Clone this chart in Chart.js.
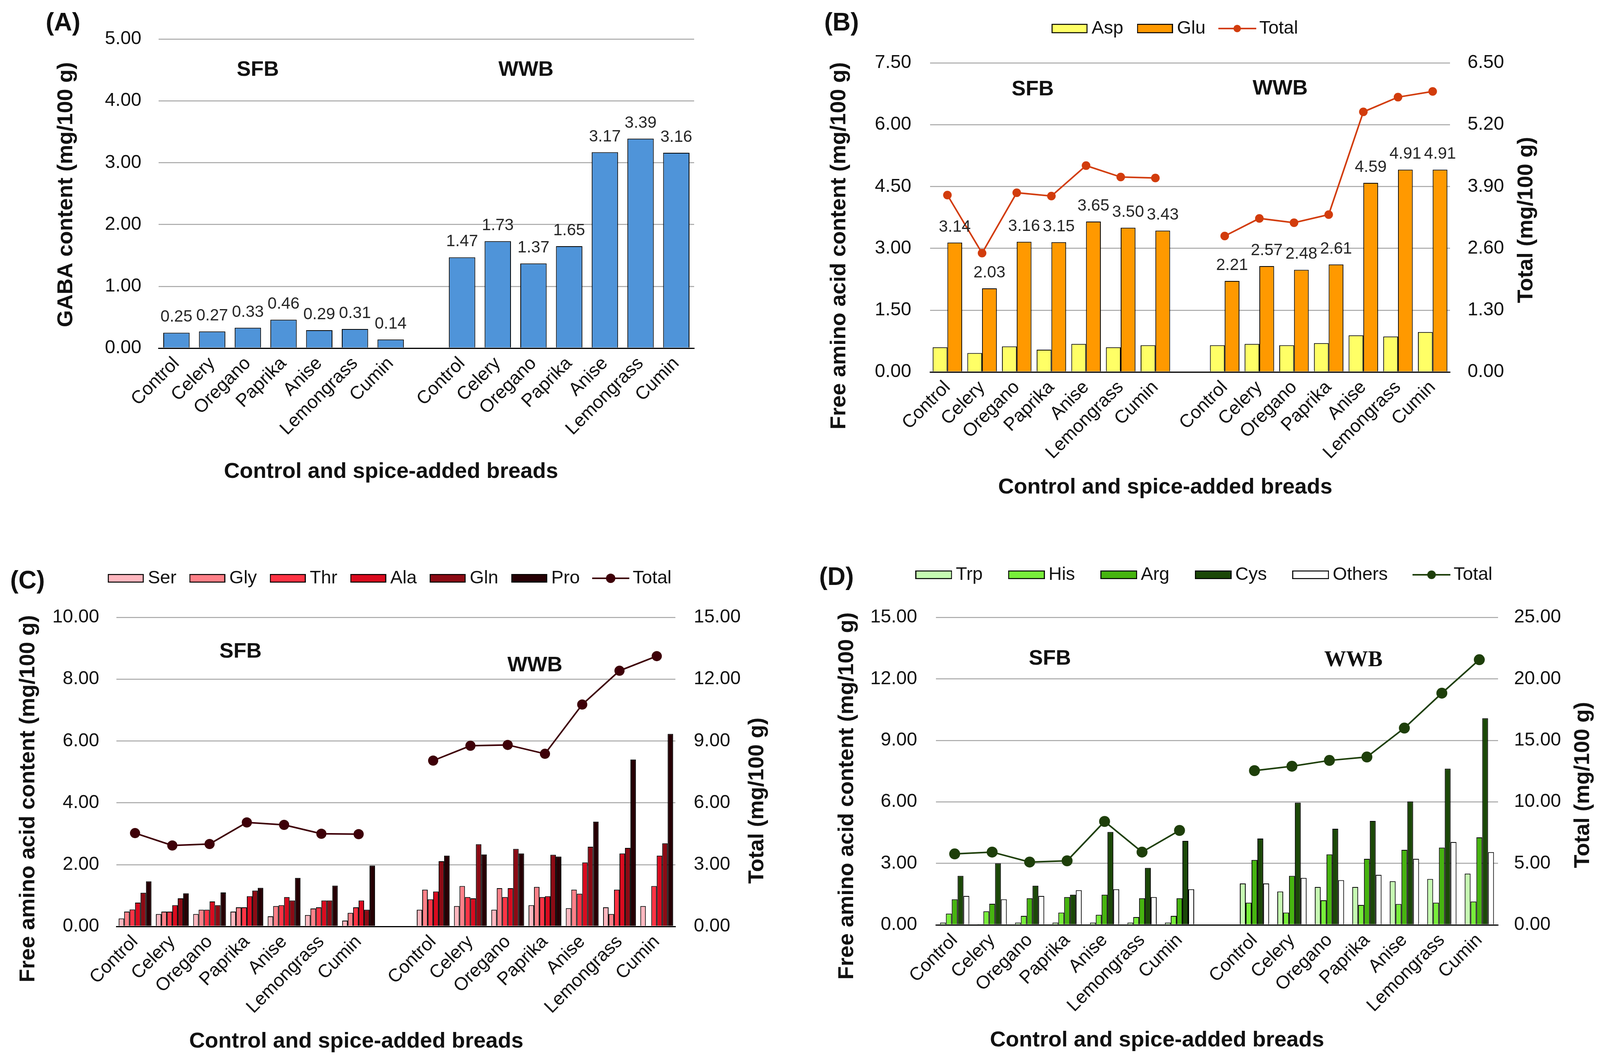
<!DOCTYPE html>
<html>
<head>
<meta charset="utf-8">
<script src="https://cdn.jsdelivr.net/npm/chart.js@4.4.1/dist/chart.umd.min.js"></script>
<style>
  html, body { margin: 0; padding: 0; background: #fff; }
  body { width: 4110px; height: 2723px; position: relative; overflow: hidden;
         font-family: "Liberation Sans", Arial, sans-serif; }
  canvas { position: absolute; }
  .tag { position: absolute; font-weight: bold; font-size: 64px; line-height: 64px; color: #111; }
</style>
</head>
<body>
<div class="tag" style="left:117px;top:24px">(A)</div>
<div class="tag" style="left:2110px;top:24px">(B)</div>
<div class="tag" style="left:26px;top:1452px">(C)</div>
<div class="tag" style="left:2097px;top:1443px">(D)</div>

<canvas id="chartA" width="2050" height="1330" style="left:0px;top:0px"></canvas>
<canvas id="chartB" width="1928" height="1330" style="left:2050px;top:0px"></canvas>
<canvas id="chartC" width="2008" height="1333" style="left:0px;top:1390px"></canvas>
<canvas id="chartD" width="2042" height="1363" style="left:2068px;top:1360px"></canvas>

<script>
// ---- data ----
const breads = ['Control', 'Celery', 'Oregano', 'Paprika', 'Anise', 'Lemongrass', 'Cumin'];
const categories = [...breads, '', ...breads];

// (A) GABA content
const gaba = [0.25, 0.27, 0.33, 0.46, 0.29, 0.31, 0.14, null, 1.47, 1.73, 1.37, 1.65, 3.17, 3.39, 3.16];
const gabaTicks = [0, 1, 2, 3, 4, 5];

// (B) Asp, Glu, total
const asp = [0.60, 0.46, 0.62, 0.54, 0.68, 0.60, 0.65, null, 0.65, 0.68, 0.65, 0.70, 0.89, 0.86, 0.97];
const glu = [3.14, 2.03, 3.16, 3.15, 3.65, 3.50, 3.43, null, 2.21, 2.57, 2.48, 2.61, 4.59, 4.91, 4.91];
const totalB = [3.72, 2.50, 3.77, 3.70, 4.34, 4.10, 4.08, null, 2.86, 3.23, 3.14, 3.31, 5.47, 5.78, 5.90];
const ticksB = [0, 1.5, 3, 4.5, 6, 7.5];
const ticksB2 = [0, 1.3, 2.6, 3.9, 5.2, 6.5];

// (C) Ser, Gly, Thr, Ala, Gln, Pro, total
const ser = [0.26, 0.40, 0.40, 0.48, 0.33, 0.37, 0.19, null, 0.54, 0.66, 0.54, 0.69, 0.59, 0.62, 0.66];
const gly = [0.48, 0.48, 0.54, 0.62, 0.66, 0.58, 0.44, null, 1.19, 1.31, 1.24, 1.28, 1.19, 0.40, 0];
const thr = [0.55, 0.48, 0.54, 0.62, 0.69, 0.62, 0.62, null, 0.88, 0.95, 0.95, 0.95, 1.06, 1.19, 1.31];
const ala = [0.77, 0.69, 0.81, 0.98, 0.95, 0.84, 0.84, null, 1.13, 0.91, 1.24, 0.98, 2.07, 2.36, 2.29];
const gln = [1.09, 0.91, 0.69, 1.16, 0.84, 0.84, 0.54, null, 2.11, 2.66, 2.51, 2.32, 2.58, 2.54, 2.69];
const pro = [1.46, 1.07, 1.10, 1.25, 1.57, 1.32, 1.97, null, 2.29, 2.33, 2.36, 2.26, 3.39, 5.40, 6.23];
const totalC = [4.53, 3.93, 4.00, 5.05, 4.93, 4.50, 4.48, null, 8.05, 8.77, 8.81, 8.38, 10.77, 12.41, 13.12];
const ticksC = [0, 2, 4, 6, 8, 10];
const ticksC2 = [0, 3, 6, 9, 12, 15];

// (D) Trp, His, Arg, Cys, others, total
const trp = [0.11, 0.04, 0.11, 0.11, 0.11, 0.11, 0.11, null, 2.02, 1.63, 1.85, 1.85, 2.13, 2.24, 2.50];
const his = [0.55, 0.66, 0.44, 0.60, 0.49, 0.38, 0.44, null, 1.08, 0.60, 1.20, 0.97, 1.02, 1.08, 1.14];
const arg = [1.25, 1.03, 1.30, 1.36, 1.47, 1.30, 1.30, null, 3.17, 2.39, 3.44, 3.22, 3.66, 3.77, 4.27];
const cys = [2.39, 3.00, 1.91, 1.47, 4.53, 2.78, 4.10, null, 4.21, 5.96, 4.69, 5.07, 6.02, 7.62, 10.08];
const others = [1.41, 1.25, 1.41, 1.69, 1.74, 1.36, 1.74, null, 2.02, 2.29, 2.18, 2.44, 3.22, 4.04, 3.55];
const totalD = [5.77, 5.92, 5.11, 5.21, 8.41, 5.92, 7.68, null, 12.54, 12.90, 13.37, 13.65, 16.00, 18.84, 21.56];
const ticksD = [0, 3, 6, 9, 12, 15];
const ticksD2 = [0, 5, 10, 15, 20, 25];

// ---- styling helpers ----
const FAMILY = '"Liberation Sans", Arial, sans-serif';
const INK = '#111';
const TITLE_FONT = 'bold 56px ' + FAMILY;
const GROUP_FONT = 'bold 54px ' + FAMILY;

function boxKey(fill, w, h) {
  const c = document.createElement('canvas');
  c.width = w; c.height = h;
  const g = c.getContext('2d');
  g.fillStyle = fill;
  g.fillRect(0, 0, w, h);
  g.lineWidth = 2.5;
  g.strokeStyle = '#000';
  g.strokeRect(1.25, 1.25, w - 2.5, h - 2.5);
  return c;
}

function lineKey(color, w, h, r) {
  const c = document.createElement('canvas');
  c.width = w; c.height = h;
  const g = c.getContext('2d');
  g.strokeStyle = color;
  g.lineWidth = 4;
  g.beginPath();
  g.moveTo(0, h / 2);
  g.lineTo(w, h / 2);
  g.stroke();
  g.fillStyle = color;
  g.beginPath();
  g.arc(w / 2, h / 2, r, 0, Math.PI * 2);
  g.fill();
  return c;
}

function legendOpts(keys, pad) {
  return {
    display: true,
    position: 'top',
    align: 'center',
    labels: {
      font: { family: FAMILY, size: 47 },
      color: INK,
      usePointStyle: true,
      pointStyleWidth: 66,
      padding: pad,
      generateLabels: chart => chart.data.datasets.map((ds, i) => ({
        text: ds.label,
        pointStyle: keys[i],
        fontColor: INK,
        datasetIndex: i,
        hidden: false,
        lineWidth: 0
      }))
    }
  };
}

function fixedTicks(values) {
  return scale => { scale.ticks = values.map(v => ({ value: v })); };
}

function yAxis(pos, ticks, width, pad, grid) {
  return {
    position: pos,
    min: ticks[0],
    max: ticks[ticks.length - 1],
    afterBuildTicks: fixedTicks(ticks),
    afterFit: s => { s.width = width; },
    grid: grid ? {
      drawTicks: false,
      color: c => c.tick && c.tick.value === 0 ? '#000' : '#A6A6A6',
      lineWidth: c => c.tick && c.tick.value === 0 ? 3 : 2.5
    } : { display: false, drawTicks: false },
    border: { display: false },
    ticks: {
      padding: pad,
      color: INK,
      font: { family: FAMILY, size: 48 },
      callback: v => Number(v).toFixed(2)
    }
  };
}

function xAxis(height) {
  return {
    type: 'category',
    grid: { display: false, drawTicks: false },
    border: { display: true, color: '#000', width: 3 },
    ticks: {
      autoSkip: false,
      minRotation: 45,
      maxRotation: 45,
      padding: 12,
      color: INK,
      font: { family: FAMILY, size: 47 }
    },
    afterFit: s => { s.height = height; }
  };
}

function spacer(height) {
  return {
    type: 'category',
    position: 'top',
    grid: { display: false, drawTicks: false },
    border: { display: false },
    ticks: { display: false },
    afterFit: s => { s.height = height; }
  };
}

// texts: value labels over bars, SFB/WWB group names, axis titles
const annotate = {
  id: 'annotate',
  afterDatasetsDraw(chart, args, opts) {
    const ctx = chart.ctx;
    ctx.save();
    ctx.fillStyle = INK;
    (opts.valueSets || []).forEach(i => {
      const meta = chart.getDatasetMeta(i);
      const values = chart.data.datasets[i].data;
      ctx.font = '42px ' + FAMILY;
      ctx.fillStyle = '#262626';
      ctx.textAlign = 'center';
      ctx.textBaseline = 'alphabetic';
      meta.data.forEach((bar, j) => {
        if (values[j] == null) return;
        ctx.fillText(values[j].toFixed(2), bar.x, bar.y - 28);
      });
    });
    ctx.fillStyle = INK;
    ctx.textAlign = 'center';
    ctx.textBaseline = 'middle';
    (opts.groups || []).forEach(g => {
      ctx.font = g.font || GROUP_FONT;
      ctx.fillText(g.text, chart.scales.x.getPixelForValue(g.at), chart.scales.y.getPixelForValue(g.level));
    });
    (opts.titles || []).forEach(t => {
      ctx.save();
      ctx.translate(t.x, t.y);
      if (t.vertical) ctx.rotate(-Math.PI / 2);
      ctx.font = TITLE_FONT;
      ctx.fillText(t.text, 0, 0);
      ctx.restore();
    });
    ctx.restore();
  }
};

const XTITLE = 'Control and spice-added breads';
const AA_TITLE = 'Free amino acid content (mg/100 g)';
const TOTAL_TITLE = 'Total (mg/100 g)';

function barSet(label, data, color, catPct) {
  return {
    label, data,
    backgroundColor: color,
    borderColor: '#000',
    borderWidth: 2,
    categoryPercentage: catPct,
    barPercentage: 1,
    yAxisID: 'y',
    order: 1
  };
}

function totalSet(data, color, radius) {
  return {
    type: 'line',
    label: 'Total',
    data,
    yAxisID: 'y2',
    borderColor: color,
    backgroundColor: color,
    pointBackgroundColor: color,
    pointBorderWidth: 0,
    pointRadius: radius,
    borderWidth: 4,
    tension: 0,
    spanGaps: false,
    order: 0
  };
}

const base = {
  responsive: false,
  animation: false,
  devicePixelRatio: 1,
  events: []
};

// ---- (A) ----
new Chart(document.getElementById('chartA'), {
  type: 'bar',
  data: {
    labels: categories,
    datasets: [{
      label: 'GABA',
      data: gaba,
      backgroundColor: '#4F94D9',
      borderColor: '#000',
      borderWidth: 2,
      categoryPercentage: 0.82,
      barPercentage: 0.9
    }]
  },
  options: {
    ...base,
    layout: { padding: { top: 100, right: 273, bottom: 0, left: 0 } },
    scales: {
      x: xAxis(439),
      y: yAxis('left', gabaTicks, 406, 44, true)
    },
    plugins: {
      legend: { display: false },
      tooltip: { enabled: false },
      annotate: {
        valueSets: [0],
        groups: [
          { text: 'SFB', at: 2.28, level: 4.5 },
          { text: 'WWB', at: 9.79, level: 4.5 }
        ],
        titles: [
          { text: 'GABA content (mg/100 g)', x: 170, y: 498, vertical: true },
          { text: XTITLE, x: 1001, y: 1208 }
        ]
      }
    }
  },
  plugins: [annotate]
});

// ---- (B) ----
new Chart(document.getElementById('chartB'), {
  type: 'bar',
  data: {
    labels: categories,
    datasets: [
      barSet('Asp', asp, '#FFFF66', 0.85),
      barSet('Glu', glu, '#FF9900', 0.85),
      totalSet(totalB, '#D23C0C', 11)
    ]
  },
  options: {
    ...base,
    layout: { padding: { top: 1.5, right: 0, bottom: 0, left: 0 } },
    scales: {
      gap: spacer(54.5),
      x: xAxis(378),
      y: yAxis('left', ticksB, 331, 48, true),
      y2: yAxis('right', ticksB2, 266, 45, false)
    },
    plugins: {
      legend: legendOpts([
        boxKey('#FFFF66', 92, 24),
        boxKey('#FF9900', 92, 24),
        lineKey('#D23C0C', 97, 24, 9.5)
      ], 48),
      tooltip: { enabled: false },
      annotate: {
        valueSets: [1],
        groups: [
          { text: 'SFB', at: 2.46, level: 6.85 },
          { text: 'WWB', at: 9.6, level: 6.87 }
        ],
        titles: [
          { text: AA_TITLE, x: 99, y: 629, vertical: true },
          { text: TOTAL_TITLE, x: 1858, y: 563, vertical: true },
          { text: XTITLE, x: 933, y: 1248 }
        ]
      }
    }
  },
  plugins: [annotate]
});

// ---- (C) ----
const colC = ['#FFB7BF', '#FF8088', '#FF3344', '#DA0A1E', '#8C0A14', '#260004'];
new Chart(document.getElementById('chartC'), {
  type: 'bar',
  data: {
    labels: categories,
    datasets: [
      barSet('Ser', ser, colC[0], 0.88),
      barSet('Gly', gly, colC[1], 0.88),
      barSet('Thr', thr, colC[2], 0.88),
      barSet('Ala', ala, colC[3], 0.88),
      barSet('Gln', gln, colC[4], 0.88),
      barSet('Pro', pro, colC[5], 0.88),
      totalSet(totalC, '#3E0008', 13)
    ]
  },
  options: {
    ...base,
    layout: { padding: { top: 20.5, right: 0, bottom: 0, left: 0 } },
    scales: {
      gap: spacer(66.5),
      x: xAxis(352),
      y: yAxis('left', ticksC, 298, 44, true),
      y2: yAxis('right', ticksC2, 279, 47, false)
    },
    plugins: {
      legend: legendOpts([
        ...colC.map(c => boxKey(c, 92, 22)),
        lineKey('#3E0008', 95, 26, 12)
      ], 46),
      tooltip: { enabled: false },
      annotate: {
        groups: [
          { text: 'SFB', at: 2.83, level: 8.89 },
          { text: 'WWB', at: 10.73, level: 8.44 }
        ],
        titles: [
          { text: AA_TITLE, x: 73, y: 654, vertical: true },
          { text: TOTAL_TITLE, x: 1939, y: 659, vertical: true },
          { text: XTITLE, x: 912, y: 1276 }
        ]
      }
    }
  },
  plugins: [annotate]
});

// ---- (D) ----
const colD = ['#C6FAB2', '#78EE3A', '#46B40F', '#1B4807', '#FFFFFF'];
new Chart(document.getElementById('chartD'), {
  type: 'bar',
  data: {
    labels: categories,
    datasets: [
      barSet('Trp', trp, colD[0], 0.78),
      barSet('His', his, colD[1], 0.78),
      barSet('Arg', arg, colD[2], 0.78),
      barSet('Cys', cys, colD[3], 0.78),
      barSet('Others', others, colD[4], 0.78),
      totalSet(totalD, '#1E3F0A', 14)
    ]
  },
  options: {
    ...base,
    layout: { padding: { top: 8.5, right: 0, bottom: 0, left: 0 } },
    scales: {
      gap: spacer(75.5),
      x: xAxis(356),
      y: yAxis('left', ticksD, 328, 48, true),
      y2: yAxis('right', ticksD2, 275, 41, false)
    },
    plugins: {
      legend: legendOpts([
        ...colD.map(c => boxKey(c, 94, 22)),
        lineKey('#1E3F0A', 97, 28, 11)
      ], 79),
      tooltip: { enabled: false },
      annotate: {
        groups: [
          { text: 'SFB', at: 2.54, level: 12.98 },
          { text: 'WWB', at: 10.64, level: 12.9, font: 'bold 56px "Liberation Serif", "Times New Roman", serif' }
        ],
        titles: [
          { text: AA_TITLE, x: 101, y: 677, vertical: true },
          { text: TOTAL_TITLE, x: 1985, y: 649, vertical: true },
          { text: XTITLE, x: 894, y: 1303 }
        ]
      }
    }
  },
  plugins: [annotate]
});
</script>
</body>
</html>
